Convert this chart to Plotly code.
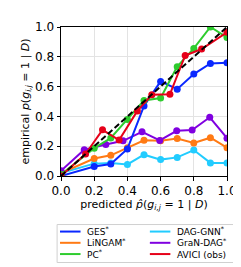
import plotly.graph_objects as go

methods = ["GES<sup>*</sup>", "LiNGAM<sup>*</sup>", "PC<sup>*</sup>",
           "DAG-GNN<sup>*</sup>", "GraN-DAG<sup>*</sup>", "AVICI (obs)"]
colors = ["#0a28ff", "#ff7a14", "#2ecc2e", "#22ccff", "#8000e0", "#e60019"]

ges_x = [0.0, 0.2, 0.3, 0.4, 0.5, 0.6, 0.7, 0.8, 0.9, 1.0]
ges_y = [0.0, 0.064, 0.08, 0.182, 0.47, 0.635, 0.583, 0.684, 0.755, 0.76]

lingam_x = [0.0, 0.2, 0.3, 0.4, 0.5, 0.6, 0.7, 0.8, 0.9, 1.0]
lingam_y = [0.02, 0.117, 0.139, 0.19, 0.24, 0.236, 0.252, 0.222, 0.257, 0.19]

pc_x = [0.0, 0.2, 0.3, 0.4, 0.5, 0.6, 0.7, 0.8, 0.9, 1.0]
pc_y = [0.01, 0.187, 0.255, 0.38, 0.507, 0.523, 0.734, 0.856, 1.0, 0.93]

daggnn_x = [0.0, 0.2, 0.3, 0.4, 0.5, 0.6, 0.7, 0.8, 0.9, 1.0]
daggnn_y = [0.02, 0.083, 0.088, 0.078, 0.143, 0.11, 0.125, 0.174, 0.088, 0.088]

grandag_x = [0.0, 0.14, 0.27, 0.374, 0.488, 0.595, 0.697, 0.79, 0.896, 1.0]
grandag_y = [0.035, 0.176, 0.212, 0.236, 0.297, 0.239, 0.303, 0.308, 0.394, 0.254]

avici_x = [0.0, 0.148, 0.25, 0.35, 0.46, 0.547, 0.656, 0.748, 0.847, 1.0]
avici_y = [0.0, 0.148, 0.31, 0.241, 0.437, 0.545, 0.548, 0.809, 0.852, 0.964]

diag = [0.0, 1.0]
ticks = [0.0, 0.2, 0.4, 0.6, 0.8, 1.0]
tick_labels = ["0.0", "0.2", "0.4", "0.6", "0.8", "1.0"]

series = [(ges_x, ges_y), (lingam_x, lingam_y), (pc_x, pc_y),
          (daggnn_x, daggnn_y), (grandag_x, grandag_y), (avici_x, avici_y)]
draw_order = [3, 1, 4, 0, 2, 5]

# plot area geometry (pixels)
W, H = 241, 267
L, R, T, B = 53, 18, 13, 99
pw, ph = W - L - R, H - T - B


def px(x):
    return (x - L) / pw


def py(y):
    return (H - B - y) / ph


fig = go.Figure()
for i in draw_order:
    xs, ys = series[i]
    fig.add_trace(go.Scatter(
        x=xs, y=ys, mode="lines+markers", name=methods[i],
        line=dict(color=colors[i], width=2),
        marker=dict(color=colors[i], size=7),
    ))

fig.add_trace(go.Scatter(x=diag, y=diag, mode="lines", showlegend=False,
                         line=dict(color="black", width=2, dash="6px,3px")))

axis_common = dict(range=[0, 1], tickvals=ticks, ticktext=tick_labels,
                   showgrid=True, gridcolor="#e3e3e3", gridwidth=1,
                   showline=True, linecolor="black", linewidth=1, mirror=True,
                   ticks="outside", ticklen=3.5, tickcolor="black",
                   zeroline=False, tickfont=dict(size=12, color="black"))

fig.update_xaxes(**axis_common,
                 title=dict(text="predicted <i>p̂</i>(<i>g<sub>i,j</sub></i> = 1 | <i>D</i>)",
                            font=dict(size=11, color="black"), standoff=3))
fig.update_yaxes(**axis_common,
                 title=dict(text="empirical <i>p</i>(<i>g<sub>i,j</sub></i> = 1 | <i>D</i>)",
                            font=dict(size=11, color="black"), standoff=3))

# legend drawn as a framed two-column key
legend_font = 9
line_gap = legend_font * 1.3
mid_row = 237.5
row_y = [mid_row - line_gap, mid_row, mid_row + line_gap]
col_x = [52, 144]

shapes = [dict(type="rect", xref="paper", yref="paper",
               x0=px(49), x1=px(232), y0=py(218.5), y1=py(258),
               line=dict(color="#d0d0d0", width=1), fillcolor="white", layer="above")]
annotations = []
for c in range(2):
    x0 = col_x[c]
    for r in range(3):
        k = c * 3 + r
        shapes.append(dict(type="line", xref="paper", yref="paper",
                           x0=px(x0), x1=px(x0 + 21), y0=py(row_y[r]), y1=py(row_y[r]),
                           line=dict(color=colors[k], width=2), layer="above"))
    annotations.append(dict(xref="paper", yref="paper", x=px(x0 + 27), y=py(mid_row),
                            text="<br>".join(methods[c * 3:c * 3 + 3]),
                            showarrow=False, xanchor="left", yanchor="middle",
                            align="left", borderpad=0,
                            font=dict(size=legend_font, color="black")))

fig.update_layout(
    width=W, height=H,
    margin=dict(l=L, r=R, t=T, b=B),
    plot_bgcolor="white", paper_bgcolor="white",
    font=dict(family="DejaVu Sans", color="black"),
    showlegend=False,
    shapes=shapes, annotations=annotations,
)

fig.write_html("out.html")
